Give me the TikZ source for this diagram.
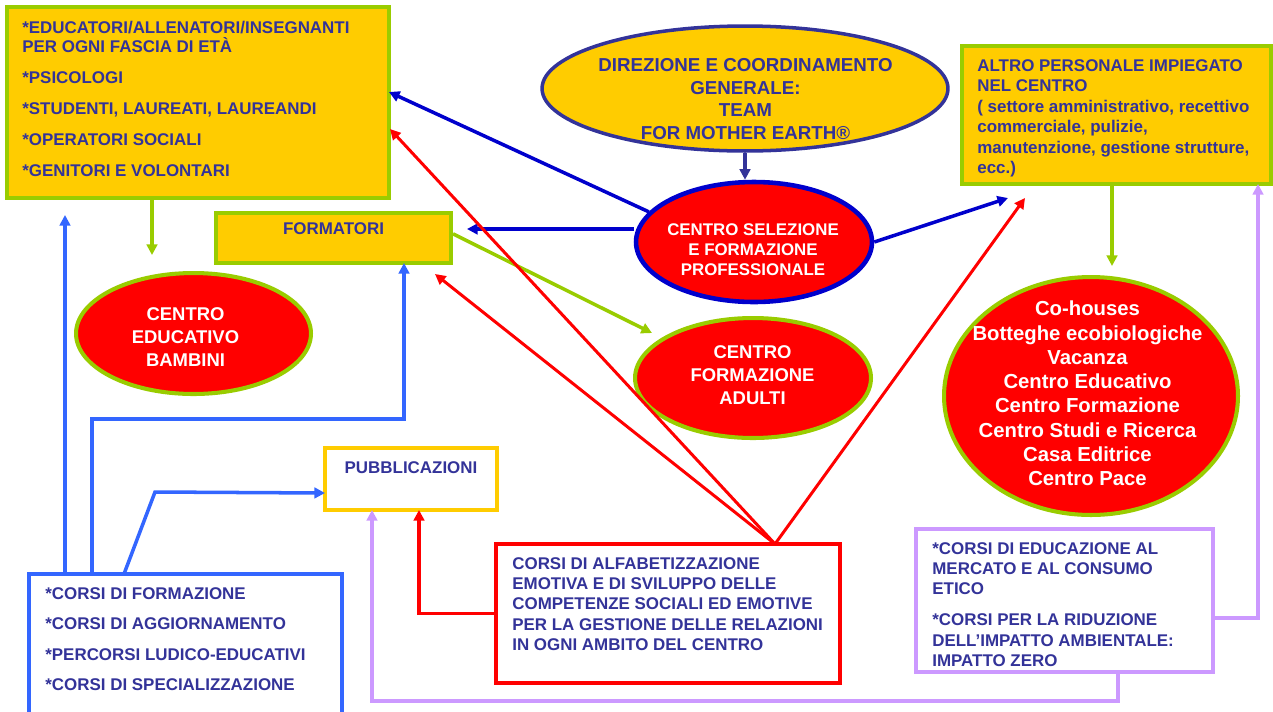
\documentclass[tikz,border=0pt]{standalone}
\usepackage{fontspec}
\setmainfont{Liberation Sans}
\usetikzlibrary{positioning,shapes.geometric,arrows.meta}
\definecolor{oro}{HTML}{FFCC00}
\definecolor{verde}{HTML}{99CC00}
\definecolor{inchiostro}{HTML}{333399}
\definecolor{blu}{HTML}{0000CC}
\definecolor{azzurro}{HTML}{3366FF}
\definecolor{lilla}{HTML}{CC99FF}
\definecolor{rosso}{HTML}{FF0000}

\begin{document}
\begin{tikzpicture}[x=0.02cm, y=-0.02cm,
  box/.style={draw=verde, line width=2.3pt, fill=oro, inner sep=0pt},
  ovale/.style={ellipse, draw=verde, line width=2.3pt, fill=rosso, inner sep=0pt},
  cornice/.style={draw, line width=2pt, fill=white, inner sep=0pt},
  testo/.style={text=inchiostro, font=\bfseries\fontsize{9.64}{11.6}\selectfont, align=left, inner sep=0pt, anchor=north west},
  bianco/.style={text=white, align=center, inner sep=0pt},
  freccia/.style={-{Triangle[length=6pt,width=6pt]}, line width=2pt}]
            \useasboundingbox (0,0) rectangle (1273,711);

            % riquadri e ovali
            \node[box, minimum width=7.64cm, minimum height=3.82cm] (edu) at (198,102.5) {};
            \node[ellipse, draw=inchiostro, line width=2pt, fill=oro, minimum width=8.12cm, minimum height=2.5cm] (direz) at (745,88.5) {};
            \node[ellipse, draw=blu, line width=2.6pt, fill=rosso, minimum width=4.72cm, minimum height=2.4cm] (selez) at (754,242) {};
            \node[box, minimum width=6.18cm, minimum height=2.76cm] (altro) at (1116.5,115) {};
            \node[box, minimum width=4.7cm, minimum height=1.0cm] (formatori) at (333.5,238) {};
            \node[ovale, minimum width=4.7cm, minimum height=2.42cm] (bambini) at (193.5,333.5) {};
            \node[ovale, minimum width=4.72cm, minimum height=2.4cm] (adulti) at (753,378) {};
            \node[ovale, minimum width=5.88cm, minimum height=4.76cm] (centri) at (1091,396) {};
            \node[cornice, draw=oro, minimum width=3.44cm, minimum height=1.24cm] (pubbl) at (411,479) {};
            \node[cornice, draw=azzurro, minimum width=6.26cm, minimum height=3.32cm] (corsi) at (185.5,657) {};
            \node[cornice, draw=rosso, minimum width=6.88cm, minimum height=2.78cm] (emo) at (668,613.5) {};
            \node[cornice, draw=lilla, minimum width=5.94cm, minimum height=2.86cm] (etico) at (1064.5,600.5) {};

            % testi
            \node[testo, font=\bfseries\fontsize{9.64}{10.8}\selectfont] (eduT) at (22,21)
              {*EDUCATORI/ALLENATORI/INSEGNANTI\\PER OGNI FASCIA DI ETÀ\\[6.8pt]*PSICOLOGI\\[6.8pt]*STUDENTI, LAUREATI, LAUREANDI\\[6.8pt]*OPERATORI SOCIALI\\[6.8pt]*GENITORI E VOLONTARI};
            \node[testo, anchor=center, align=center, font=\bfseries\fontsize{10.66}{12.9}\selectfont] (direzT) at (745.5,99)
              {DIREZIONE E COORDINAMENTO\\GENERALE:\\TEAM\\FOR MOTHER EARTH®};
            \node[bianco, font=\bfseries\fontsize{9.6}{11.3}\selectfont] (selezT) at (753,250)
              {CENTRO SELEZIONE\\E FORMAZIONE\\PROFESSIONALE};
            \node[testo, font=\bfseries\fontsize{9.64}{11.7}\selectfont] (altroT) at (977,59)
              {ALTRO PERSONALE IMPIEGATO\\NEL CENTRO\\( settore amministrativo, recettivo\\commerciale, pulizie,\\manutenzione, gestione strutture,\\ecc.)};
            \node[testo, anchor=center] (formatoriT) at (333.5,229) {FORMATORI};
            \node[bianco, font=\bfseries\fontsize{10.5}{13}\selectfont] (bambiniT) at (185.5,337)
              {CENTRO\\EDUCATIVO\\BAMBINI};
            \node[bianco, font=\bfseries\fontsize{10.5}{13}\selectfont] (adultiT) at (752.5,375)
              {CENTRO\\FORMAZIONE\\ADULTI};
            \node[bianco, font=\bfseries\fontsize{11.55}{13.8}\selectfont] (centriT) at (1087.5,393.5)
              {Co-houses\\Botteghe ecobiologiche\\Vacanza\\Centro Educativo\\Centro Formazione\\Centro Studi e Ricerca\\Casa Editrice\\Centro Pace};
            \node[testo, anchor=center] (pubblT) at (411,468) {PUBBLICAZIONI};
            \node[testo, font=\bfseries\fontsize{9.64}{17.4}\selectfont] (corsiT) at (45,587)
              {*CORSI DI FORMAZIONE\\*CORSI DI AGGIORNAMENTO\\*PERCORSI LUDICO-EDUCATIVI\\*CORSI DI SPECIALIZZAZIONE};
            \node[testo] (emoT) at (512,557)
              {CORSI DI ALFABETIZZAZIONE\\EMOTIVA E DI SVILUPPO DELLE\\COMPETENZE SOCIALI ED EMOTIVE\\PER LA GESTIONE DELLE RELAZIONI\\IN OGNI AMBITO DEL CENTRO};
            \node[testo] (eticoT) at (932,542)
              {*CORSI DI EDUCAZIONE AL\\MERCATO E AL CONSUMO\\ETICO\\[6pt]*CORSI PER LA RIDUZIONE\\DELL’IMPATTO AMBIENTALE:\\IMPATTO ZERO};

            % punti di arrivo e gomiti
            \coordinate (eduIn1) at (389,92);
            \coordinate (eduIn2) at (390,129);
            \coordinate (eduIn3) at (65,215);
            \coordinate (forIn1) at (467,229);
            \coordinate (forIn2) at (435,274);
            \coordinate (forIn3) at (404,263);
            \coordinate (altIn1) at (1008,198);
            \coordinate (altIn2) at (1025,198);
            \coordinate (altIn3) at (1258,184);
            \coordinate (bamIn) at (152,255);
            \coordinate (adIn) at (652,333);
            \coordinate (cenIn) at (1112,266);
            \coordinate (pubIn1) at (325,493);
            \coordinate (pubIn2) at (419,510);
            \coordinate (pubIn3) at (372,510);
            \coordinate (rosTop) at (775,544);
            \coordinate (cGomito) at (92,419);
            \coordinate (cPart) at (124,574);
            \coordinate (cPiega) at (155,492);
            \coordinate (lGiu) at (1118,701);
            \coordinate (lDx) at (1258,618);

            % frecce
            \draw[freccia, inchiostro] (direz.south) -- (direz.south |- selez.north);
            \draw[freccia, blu] (selez.164) -- (eduIn1);
            \draw[freccia, blu] (selez.west |- forIn1) -- (forIn1);
            \draw[freccia, blu] (selez.east) -- (altIn1);
            \draw[freccia, verde] (edu.south -| bamIn) -- (bamIn);
            \draw[freccia, verde] (formatori.2.5) -- (adIn);
            \draw[freccia, verde] (altro.south -| cenIn) -- (cenIn);
            \draw[freccia, rosso, line width=1.7pt] (rosTop) -- (eduIn2);
            \draw[freccia, rosso, line width=1.7pt] (rosTop) -- (forIn2);
            \draw[freccia, rosso, line width=1.7pt] (rosTop) -- (altIn2);
            \draw[freccia, rosso] (emo.west) -| (pubIn2);
            \draw[freccia, azzurro] (corsi.north -| eduIn3) -- (eduIn3);
            \draw[freccia, azzurro] (corsi.north -| cGomito) -- (cGomito) -| (forIn3);
            \draw[freccia, azzurro] (cPart) -- (cPiega) -- (pubIn1);
            \draw[freccia, lilla] (etico.south -| lGiu) -- (lGiu) -| (pubIn3);
            \draw[freccia, lilla] (etico.east |- lDx) -- (lDx) -- (altIn3);
          \end{tikzpicture}
\end{document}
